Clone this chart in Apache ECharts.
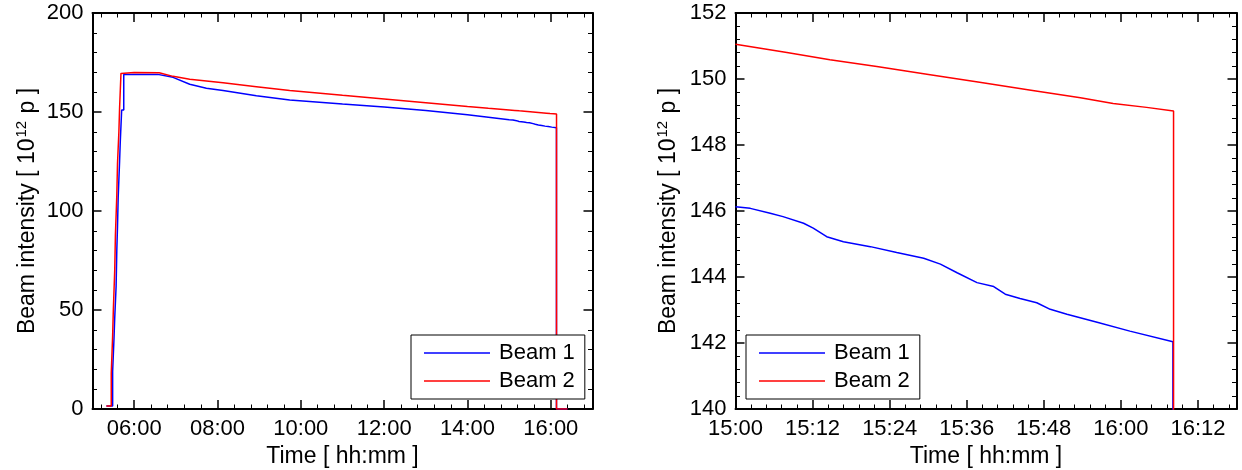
<!DOCTYPE html>
<html>
<head>
<meta charset="utf-8">
<script src="https://cdn.jsdelivr.net/npm/echarts@6/dist/echarts.min.js"></script>
<style>
  html, body { margin: 0; padding: 0; background: #fff; }
  #chart { width: 1242px; height: 470px; }
</style>
</head>
<body>
<div id="chart"></div>
<script>
// Whole fill, injection to end (times HH:MM, intensity in 1e12 protons)
const fillTimes1 = ['05:20','05:29','05:29','05:31','05:31','05:32','05:32','05:34','05:34','05:35','05:35','05:36','05:36','05:37','05:37','05:39','05:39','05:40','05:40','05:42','05:42','05:45','05:45','06:00','06:34','06:56','07:20','07:44','08:08','08:56','09:44','11:00','12:00','13:00','14:00','14:30'];
const fillBeam1  = [1.5,1.5,19,19,36,36,46,46,62,62,80,80,92,92,107,107,125,125,135,135,151,151,169,169,169,167.5,164.0,162.0,160.8,158.2,156.1,154.0,152.5,150.8,148.6,147.4];

const fillTimes2 = ['05:20','05:27','05:27','05:29','05:29','05:30','05:30','05:32','05:32','05:33','05:33','05:35','05:35','05:36','05:36','05:38','05:38','05:39','05:39','05:41','05:41','06:00','06:36','06:56','07:20','08:08','08:56','09:44','11:00','12:00','13:00','14:00','14:30'];
const fillBeam2  = [1.5,1.5,18,18,37,37,50,50,70,70,88,88,108,108,124,124,140,140,152,152,169.5,170,169.8,168.0,166.5,164.8,162.8,160.8,158.4,156.6,154.7,152.8,151.9];

// Last hour of the fill, minutes after 15:00
const endMinutes1 = [0,2.3,5.4,7.4,10.6,12.1,14.2,16.8,21,25.1,29.3,31.9,34.5,37.6,40.2,42,44.3,46.9,49,51.6,56.3,61.4,68.1,68.1,84];
const endBeam1    = [146.13,146.08,145.93,145.83,145.63,145.48,145.22,145.07,144.92,144.74,144.57,144.39,144.13,143.83,143.71,143.48,143.35,143.22,143.02,142.87,142.63,142.36,142.04,0,0];

const endMinutes2 = [0,8,14.7,22,30.3,38,46,53.7,58.8,64,68.2,68.2,84];
const endBeam2    = [151.05,150.8,150.58,150.38,150.13,149.9,149.66,149.43,149.26,149.14,149.03,0,0];

const seriesNames = ['Beam 1', 'Beam 2'];
const seriesColors = ['#0000ff', '#ff0000'];

const FONT = '"Liberation Sans", Arial, Helvetica, sans-serif';

function toHours(s) {
  const p = s.split(':').map(Number);
  return p[0] + p[1] / 60;
}
function hhmm(hours) {
  const t = Math.round(hours * 60);
  const h = Math.floor(t / 60), m = t % 60;
  return String(h).padStart(2, '0') + ':' + String(m).padStart(2, '0');
}

const overview1 = fillTimes1.map((t, i) => [toHours(t), fillBeam1[i]])
  .concat(endMinutes1.map((m, i) => [15 + m / 60, endBeam1[i]]));
const overview2 = fillTimes2.map((t, i) => [toHours(t), fillBeam2[i]])
  .concat(endMinutes2.map((m, i) => [15 + m / 60, endBeam2[i]]));
const detail1 = endMinutes1.map((m, i) => [m, endBeam1[i]]);
const detail2 = endMinutes2.map((m, i) => [m, endBeam2[i]]);

const tickStyle = {
  axisLine: { show: true, onZero: false, lineStyle: { color: '#000', width: 2 } },
  axisTick: { show: true, inside: true, length: 9, lineStyle: { color: '#000', width: 1.5 } },
  minorTick: { show: true, splitNumber: 5, length: 4.5, lineStyle: { color: '#000', width: 1 } },
  splitLine: { show: false },
  minorSplitLine: { show: false }
};
const labelStyle = { color: '#000', fontFamily: FONT, fontSize: 22 };
const nameStyle = {
  color: '#000', fontFamily: FONT, fontSize: 23,
  rich: {
    t: { fontFamily: FONT, fontSize: 23, color: '#000', lineHeight: 26 },
    sup: { fontFamily: FONT, fontSize: 15, color: '#000', lineHeight: 26, verticalAlign: 'top', padding: [0, 1, 8, 1] }
  }
};

function xMain(grid, min, max, extra, fmt) {
  return Object.assign({
    type: 'value', gridIndex: grid, position: 'bottom', min: min, max: max,
    name: '{t|Time [ hh:mm ]}', nameLocation: 'middle', nameGap: 33, nameTextStyle: nameStyle,
    axisLabel: Object.assign({ margin: 9, formatter: fmt }, labelStyle)
  }, tickStyle, extra);
}
function xMirror(grid, min, max, extra) {
  return Object.assign({
    type: 'value', gridIndex: grid, position: 'top', min: min, max: max,
    axisLabel: { show: false }
  }, tickStyle, extra);
}
function yMain(grid, min, max, interval, gap) {
  return Object.assign({
    type: 'value', gridIndex: grid, position: 'left', min: min, max: max, interval: interval,
    name: '{t|Beam intensity [ 10}{sup|12}{t| p ]}', nameLocation: 'middle', nameGap: gap, nameRotate: 90,
    nameTextStyle: nameStyle,
    axisLabel: Object.assign({ margin: 9 }, labelStyle)
  }, tickStyle);
}
function yMirror(grid, min, max, interval) {
  return Object.assign({
    type: 'value', gridIndex: grid, position: 'right', min: min, max: max, interval: interval,
    axisLabel: { show: false }
  }, tickStyle);
}

// even whole hours only on the overview axis
const overviewLabel = v => {
  const r = Math.round(v);
  return (Math.abs(v - r) < 1e-6 && r % 2 === 0) ? hhmm(v) : '';
};
const detailLabel = v => (Math.abs(v % 12) < 1e-6 ? hhmm(15 + v / 60) : '');

function lineSeries(name, color, xi, yi, data) {
  return {
    type: 'line', name: name, xAxisIndex: xi, yAxisIndex: yi, data: data,
    symbol: 'none', showSymbol: false, clip: true, animation: false,
    lineStyle: { color: color, width: 1.5 }, itemStyle: { color: color }
  };
}

function legendAt(left) {
  return {
    data: seriesNames, orient: 'vertical', left: left, top: 335,
    icon: 'rect', itemWidth: 66, itemHeight: 1.5, itemGap: 4,
    padding: [6, 10, 6, 13],
    backgroundColor: '#fff', borderColor: '#000', borderWidth: 1, borderRadius: 0,
    selectedMode: false,
    textStyle: { color: '#000', fontFamily: FONT, fontSize: 22, lineHeight: 24, padding: [0, 0, 0, 4] }
  };
}

const chart = echarts.init(document.getElementById('chart'), null, { renderer: 'canvas' });
chart.setOption({
  animation: false,
  backgroundColor: '#fff',
  grid: [
    { left: 92.5, top: 13, width: 500, height: 396, outerBoundsMode: 'none', containLabel: false },
    { left: 735.5, top: 13, width: 501, height: 396, outerBoundsMode: 'none', containLabel: false }
  ],
  xAxis: [
    xMain(0, 5, 17, { minInterval: 2, maxInterval: 2 }, overviewLabel),
    xMirror(0, 5, 17, { minInterval: 2, maxInterval: 2 }),
    xMain(1, 0, 78, { interval: 12 }, detailLabel),
    xMirror(1, 0, 78, { interval: 12 })
  ],
  yAxis: [
    yMain(0, 0, 200, 50, 52),
    yMirror(0, 0, 200, 50),
    yMain(1, 140, 152, 2, 54),
    yMirror(1, 140, 152, 2)
  ],
  legend: [legendAt(411), legendAt(746)],
  series: [
    lineSeries(seriesNames[0], seriesColors[0], 0, 0, overview1),
    lineSeries(seriesNames[1], seriesColors[1], 0, 0, overview2),
    lineSeries(seriesNames[0], seriesColors[0], 2, 2, detail1),
    lineSeries(seriesNames[1], seriesColors[1], 2, 2, detail2)
  ]
});
</script>
</body>
</html>
